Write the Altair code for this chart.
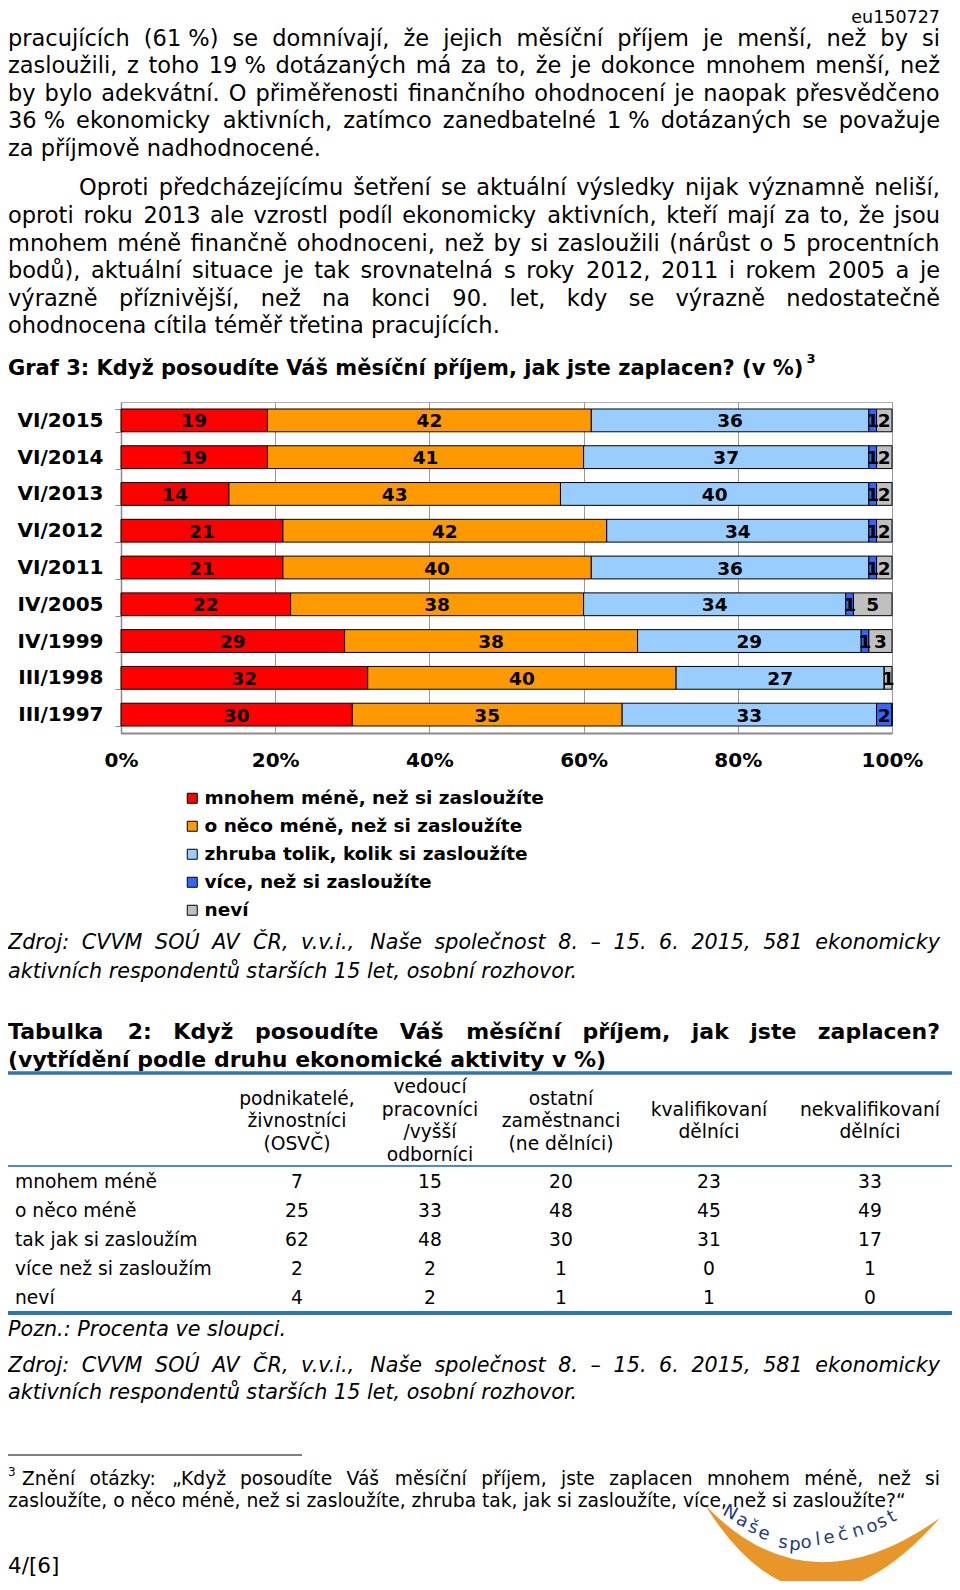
import unicodedata
import altair as alt
import pandas as pd

F = "DejaVu Sans"

# ---------------- chart data ----------------
periods = ["VI/2015", "VI/2014", "VI/2013", "VI/2012", "VI/2011",
           "IV/2005", "IV/1999", "III/1998", "III/1997"]
categories = ["mnohem méně, než si zasloužíte",
              "o něco méně, než si zasloužíte",
              "zhruba tolik, kolik si zasloužíte",
              "více, než si zasloužíte",
              "neví"]
much_less = [19, 19, 14, 21, 21, 22, 29, 32, 30]
bit_less = [42, 41, 43, 42, 40, 38, 38, 40, 35]
about_right = [36, 37, 40, 34, 36, 34, 29, 27, 33]
more_than = [1, 1, 1, 1, 1, 1, 1, 0, 2]
dont_know = [2, 2, 2, 2, 2, 5, 3, 1, 0]
palette = ["#FF0000", "#FF9900", "#99CCFF", "#3366FF", "#C0C0C0"]
x_ticks = [0, 20, 40, 60, 80, 100]

# ---------------- table data ----------------
table_head = [["podnikatelé,", "živnostníci", "(OSVČ)"],
              ["vedoucí", "pracovníci", "/vyšší", "odborníci"],
              ["ostatní", "zaměstnanci", "(ne dělníci)"],
              ["kvalifikovaní", "dělníci"],
              ["nekvalifikovaní", "dělníci"]]
table_rows = ["mnohem méně", "o něco méně", "tak jak si zasloužím",
              "více než si zasloužím", "neví"]
col_osvc = [7, 25, 62, 2, 4]
col_vedouci = [15, 33, 48, 2, 2]
col_ostatni = [20, 48, 30, 1, 1]
col_kvalif = [23, 45, 31, 0, 1]
col_nekvalif = [33, 49, 17, 1, 0]

# ---------------- page text ----------------
doc_code = "eu150727"
para1 = ["pracujících (61\u00a0%) se domnívají, že jejich měsíční příjem je menší, než by si",
         "zasloužili, z toho 19\u00a0% dotázaných má za to, že je dokonce mnohem menší, než",
         "by bylo adekvátní. O přiměřenosti finančního ohodnocení je naopak přesvědčeno",
         "36\u00a0% ekonomicky aktivních, zatímco zanedbatelné 1\u00a0% dotázaných se považuje",
         "za příjmově nadhodnocené."]
para2 = ["Oproti předcházejícímu šetření se aktuální výsledky nijak významně neliší,",
         "oproti roku 2013 ale vzrostl podíl ekonomicky aktivních, kteří mají za to, že jsou",
         "mnohem méně finančně ohodnoceni, než by si zasloužili (nárůst o 5 procentních",
         "bodů), aktuální situace je tak srovnatelná s roky 2012, 2011 i rokem 2005 a je",
         "výrazně příznivější, než na konci 90. let, kdy se výrazně nedostatečně",
         "ohodnocena cítila téměř třetina pracujících."]
graf_title = "Graf 3: Když posoudíte Váš měsíční příjem, jak jste zaplacen? (v %)"
source_lines = ["Zdroj: CVVM SOÚ AV ČR, v.v.i., Naše společnost 8. – 15. 6. 2015, 581 ekonomicky",
                "aktivních respondentů starších 15 let, osobní rozhovor."]
table_title = ["Tabulka 2: Když posoudíte Váš měsíční příjem, jak jste zaplacen?",
               "(vytřídění podle druhu ekonomické aktivity v %)"]
table_note = "Pozn.: Procenta ve sloupci."
footnote = ["Znění otázky: „Když posoudíte Váš měsíční příjem, jste zaplacen mnohem méně, než si",
            "zasloužíte, o něco méně, než si zasloužíte, zhruba tak, jak si zasloužíte, více, než si zasloužíte?“"]
page_no = "4/[6]"
logo_text = "Naše společnost"

# ---------------- layout ----------------
PL, PT, PW, PH = 121, 402, 771, 331          # plot area in page pixels
SVG_W, SVG_H = 944, 1573
XS = alt.Scale(domain=[0, 960], range=[-PL, 960 - PL], nice=False, zero=False)
YS = alt.Scale(domain=[0, 1590], range=[-PT, 1590 - PT], nice=False, zero=False)
LEFT, RIGHT = 8, 940

W_REG = {' ': .318, '\u00a0': .318, 'a': .613, 'b': .635, 'c': .550, 'd': .635, 'e': .615,
         'f': .352, 'g': .635, 'h': .634, 'i': .278, 'j': .278, 'k': .579, 'l': .278,
         'm': .974, 'n': .634, 'o': .612, 'p': .635, 'q': .635, 'r': .411, 's': .521,
         't': .392, 'u': .634, 'v': .592, 'w': .818, 'x': .592, 'y': .592, 'z': .525,
         'A': .684, 'B': .686, 'C': .698, 'D': .770, 'E': .632, 'G': .775, 'I': .295,
         'K': .656, 'M': .863, 'N': .748, 'O': .787, 'P': .603, 'R': .695, 'S': .635,
         'T': .611, 'U': .732, 'V': .684, 'Z': .685, '.': .318, ',': .318, ':': .337,
         '(': .390, ')': .390, '%': .950, '?': .531, '–': .500, '/': .337, '[': .390,
         ']': .390, '„': .459, '“': .459}
W_BOLD = {' ': .348, 'a': .675, 'b': .716, 'c': .590, 'd': .716, 'e': .678, 'f': .435,
          'g': .716, 'h': .712, 'i': .343, 'j': .343, 'k': .665, 'l': .343, 'm': 1.042,
          'n': .712, 'o': .687, 'p': .716, 'r': .493, 's': .595, 't': .478, 'u': .712,
          'v': .651, 'w': .921, 'y': .651, 'z': .586, 'G': .821, 'K': .778, 'T': .683,
          'V': .776, 'I': .372, '.': .380, ',': .380, ':': .400, '(': .457, ')': .457,
          '%': 1.002, '?': .580, '/': .365}
for d in "0123456789":
    W_REG[d] = .636
    W_BOLD[d] = .696


def glyph_w(ch, bold):
    tbl = W_BOLD if bold else W_REG
    if ch in tbl:
        return tbl[ch]
    base = unicodedata.normalize("NFD", ch)[0]
    return tbl.get(base, .68 if bold else .6)


def text_w(s, size, bold=False):
    return size * sum(glyph_w(c, bold) for c in s)


STYLES = {
    "body": dict(fontSize=22.5),
    "code": dict(fontSize=17.5, align="right"),
    "title": dict(fontSize=21, fontWeight="bold"),
    "tsup": dict(fontSize=13, fontWeight="bold"),
    "ital": dict(fontSize=20.7, fontStyle="italic"),
    "ttitle": dict(fontSize=22, fontWeight="bold"),
    "th": dict(fontSize=18.7, align="center"),
    "tl": dict(fontSize=18.7),
    "fn": dict(fontSize=18.7),
    "fnsup": dict(fontSize=12),
    "page": dict(fontSize=21.5),
    "logo": dict(fontSize=18, align="center", color="#243C7C"),
}

texts = []


def add(t, x, y, style, a=0):
    texts.append(dict(t=t, x=x, y=y, s=style, a=a % 360))


def justified(line, x0, x1, y, style):
    st = STYLES[style]
    size, bold = st["fontSize"], st.get("fontWeight") == "bold"
    words = line.split(" ")
    widths = [text_w(w, size, bold) for w in words]
    gap = (x1 - x0 - sum(widths)) / max(len(words) - 1, 1)
    x = x0
    for w, wd in zip(words, widths):
        add(w, x, y, style)
        x += wd + gap


add(doc_code, RIGHT, 18, "code")
p1_y = [38.5, 66, 93.5, 121, 148.5]
for i, (ln, y) in enumerate(zip(para1, p1_y)):
    if i < len(para1) - 1:
        justified(ln, LEFT, RIGHT, y, "body")
    else:
        add(ln, LEFT, y, "body")
p2_y = [188, 216, 243.5, 271, 298.5, 326]
for i, (ln, y) in enumerate(zip(para2, p2_y)):
    x0 = 79 if i == 0 else LEFT
    if i < len(para2) - 1:
        justified(ln, x0, RIGHT, y, "body")
    else:
        add(ln, x0, y, "body")
add(graf_title, LEFT, 369, "title")
add("3", LEFT + text_w(graf_title, 21, True) + 2, 359, "tsup")

justified(source_lines[0], LEFT, RIGHT, 943, "ital")
add(source_lines[1], LEFT, 972, "ital")
justified(table_title[0], LEFT, RIGHT, 1032, "ttitle")
add(table_title[1], LEFT, 1060, "ttitle")

col_x = [297, 430, 561, 709, 870]
head_mid = 1121
for cx, lines in zip(col_x, table_head):
    n = len(lines)
    for k, ln in enumerate(lines):
        add(ln, cx, head_mid + (k - (n - 1) / 2) * 22.5, "th")
row_y = [1182, 1211, 1240, 1269, 1298]
cols = [col_osvc, col_vedouci, col_ostatni, col_kvalif, col_nekvalif]
for r, (lab, y) in enumerate(zip(table_rows, row_y)):
    add(lab, 15, y, "tl")
    for cx, col in zip(col_x, cols):
        add(str(col[r]), cx, y, "th")
add(table_note, LEFT, 1330, "ital")
justified(source_lines[0], LEFT, RIGHT, 1366, "ital")
add(source_lines[1], LEFT, 1393, "ital")
add("3", LEFT, 1472, "fnsup")
justified(footnote[0], 22, RIGHT, 1479, "fn")
add(footnote[1], LEFT, 1501, "fn")
add(page_no, LEFT, 1567, "page")

logo_pos = [(730, 1513, 28), (742, 1521, 25), (753, 1528, 20), (764, 1534, 16),
            None, (783, 1543, 8), (795, 1545, 3), (806, 1543, -2), (818, 1540, -6),
            (829, 1538, -10), (843, 1535, -13), (858, 1531, -17), (872, 1527, -20),
            (882, 1522, -24), (892, 1517, -28)]
for ch, pos in zip(logo_text, logo_pos):
    if pos is not None:
        add(ch, pos[0], pos[1], "logo", pos[2])

text_df = pd.DataFrame(texts)

# ---------------- bar chart ----------------
rows = []
for ci, (cat, vals) in enumerate(zip(categories, [much_less, bit_less, about_right, more_than, dont_know])):
    for p, v in zip(periods, vals):
        rows.append({"period": p, "cat": cat, "order": ci, "value": v})
bars_df = pd.DataFrame(rows)

xscale = alt.Scale(domain=[0, 100], nice=False)
yscale = alt.Scale(domain=periods, paddingInner=0.38, paddingOuter=0.19)

bars = alt.Chart(bars_df).mark_bar(stroke="black", strokeWidth=1, opacity=1).encode(
    x=alt.X("value:Q", stack="zero", scale=xscale,
            axis=alt.Axis(values=x_ticks, labelExpr="datum.value + '%'", title=None,
                          grid=True, gridColor="#9a9a9a", gridWidth=1, ticks=False,
                          tickSize=0, domainColor="#8a8a8a", domainWidth=2,
                          labelFont=F, labelFontSize=20, labelFontWeight="bold",
                          labelColor="black", labelPadding=17, labelFlush=False)),
    y=alt.Y("period:N", sort=periods, scale=yscale,
            axis=alt.Axis(title=None, labelFont=F, labelFontSize=20, labelFontWeight="bold",
                          labelColor="black", domainColor="#8a8a8a", domainWidth=1.5,
                          ticks=True, tickBand="extent", tickColor="#8a8a8a", tickSize=6,
                          labelPadding=12)),
    color=alt.Color("cat:N", scale=alt.Scale(domain=categories, range=palette),
                    legend=alt.Legend(orient="none", legendX=62, legendY=387, title=None,
                                      symbolType="square", symbolSize=100,
                                      symbolStrokeColor="black", symbolStrokeWidth=1,
                                      symbolOpacity=1, labelFont=F, labelFontSize=18.5,
                                      labelFontWeight="bold", labelColor="black",
                                      rowPadding=9, labelOffset=3, padding=0,
                                      labelLimit=700)),
    order=alt.Order("order:Q"),
)

bar_labels = alt.Chart(bars_df).transform_filter("datum.value > 0").transform_stack(
    stack="value", groupby=["period"], as_=["x0", "x1"], sort=[alt.SortField("order")]
).transform_calculate(xm="(datum.x0 + datum.x1) / 2").mark_text(
    font=F, fontSize=18.5, fontWeight="bold", color="black", baseline="middle", dy=1
).encode(
    x=alt.X("xm:Q", scale=xscale, axis=None),
    y=alt.Y("period:N", sort=periods, scale=yscale, axis=None),
    text="value:Q",
)

# ---------------- page text layers ----------------
layers = [bars, bar_labels]

# table / footnote rules
rule_df = pd.DataFrame({
    "x": [LEFT, LEFT, LEFT, LEFT],
    "x2": [955, 955, 955, 302],
    "y": [1073, 1166, 1313, 1455],
    "c": ["#2E75B6", "#4F8AC9", "#2E75B6", "#000000"],
    "w": [3.5, 2, 4, 1],
})
layers.append(alt.Chart(rule_df).mark_rule().encode(
    x=alt.X("x:Q", scale=XS, axis=None), x2="x2:Q",
    y=alt.Y("y:Q", scale=YS, axis=None),
    color=alt.Color("c:N", scale=None),
    strokeWidth=alt.StrokeWidth("w:Q", scale=None),
))

# logo crescent
crescent = "M -0.975 -0.375 Q -0.121 0.988 0.983 -0.267 Q -0.121 0.521 -0.975 -0.375 Z"
logo_df = pd.DataFrame({"x": [822], "y": [1550]})
layers.append(alt.Chart(logo_df).mark_point(shape=crescent, size=57600, filled=True,
                                            color="#E8962A", opacity=1, strokeWidth=0).encode(
    x=alt.X("x:Q", scale=XS, axis=None), y=alt.Y("y:Q", scale=YS, axis=None)))

for name, props in STYLES.items():
    sub = text_df[text_df["s"] == name]
    if sub.empty:
        continue
    mk = dict(baseline="middle", font=F, align="left", color="black")
    mk.update(props)
    layers.append(alt.Chart(sub).mark_text(**mk).encode(
        x=alt.X("x:Q", scale=XS, axis=None),
        y=alt.Y("y:Q", scale=YS, axis=None),
        text="t:N",
        angle=alt.Angle("a:Q", scale=None),
    ))

chart = alt.layer(*layers).resolve_scale(x="independent", y="independent").properties(
    width=PW, height=PH,
    autosize=alt.AutoSizeParams(type="none"),
    padding={"left": PL - 8, "top": PT - 8, "right": SVG_W - (PL - 8) - PW,
             "bottom": SVG_H - (PT - 8) - PH},
    background="white",
).configure_view(stroke="#b0b0b0", strokeWidth=1)

chart.save("out.html", embed_options={"renderer": "svg", "actions": False})
